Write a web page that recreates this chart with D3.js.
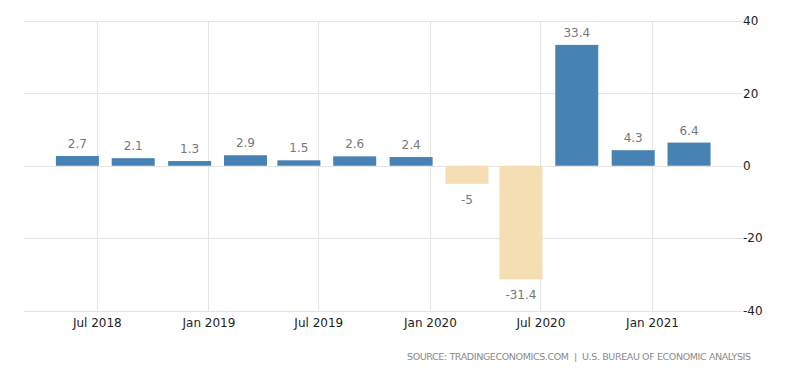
<!DOCTYPE html>
<html>
<head>
<meta charset="utf-8">
<script src="https://cdn.jsdelivr.net/npm/d3@7"></script>
<style>
  html, body { margin: 0; padding: 0; background: #fff; }
  #chart { width: 800px; height: 373px; }
  text { font-family: "DejaVu Sans", sans-serif; }
</style>
</head>
<body>
<div id="chart"></div>
<script>
// US GDP growth rate, annualized q/q (quarter end dates)
const quarters = ["2018-06-30", "2018-09-30", "2018-12-31", "2019-03-31",
                  "2019-06-30", "2019-09-30", "2019-12-31", "2020-03-31",
                  "2020-06-30", "2020-09-30", "2020-12-31", "2021-03-31"];
const values = [2.7, 2.1, 1.3, 2.9, 1.5, 2.6, 2.4, -5, -31.4, 33.4, 4.3, 6.4];

const yTicks = [-40, -20, 0, 20, 40];
const xTickDates = ["2018-07-01", "2019-01-01", "2019-07-01",
                    "2020-01-01", "2020-07-01", "2021-01-01"];
const sourceText = "SOURCE: TRADINGECONOMICS.COM  |  U.S. BUREAU OF ECONOMIC ANALYSIS";

const parse = d3.utcParse("%Y-%m-%d");
const data = quarters.map((q, i) => ({ date: parse(q), value: values[i] }));

const width = 800, height = 373;
const m = { top: 21, right: 60, bottom: 62.5, left: 24 };

const svg = d3.select("#chart").append("svg")
  .attr("width", width)
  .attr("height", height)
  .attr("viewBox", [0, 0, width, height]);

const x = d3.scaleUtc()
  .domain([parse("2018-03-03"), parse("2021-05-26")])
  .range([m.left, width - m.right]);

const y = d3.scaleLinear()
  .domain([-40, 40])
  .range([height - m.bottom, m.top]);

// ----- grid -----
const grid = svg.append("g");

grid.selectAll(null)
  .data(yTicks)
  .enter().append("line")
  .attr("x1", m.left)
  .attr("x2", width - m.right + 2)
  .attr("y1", d => Math.round(y(d)) + 0.5)
  .attr("y2", d => Math.round(y(d)) + 0.5)
  .attr("stroke", "#e4e4e4");

grid.selectAll(null)
  .data(xTickDates.map(parse))
  .enter().append("line")
  .attr("x1", d => Math.round(x(d)) + 0.5)
  .attr("x2", d => Math.round(x(d)) + 0.5)
  .attr("y1", m.top)
  .attr("y2", height - m.bottom + 2)
  .attr("stroke", "#e4e4e4");

// ----- Y axis (right) -----
const yAxis = svg.append("g")
  .attr("transform", `translate(${width - m.right + 3},0)`)
  .call(d3.axisRight(y).tickValues(yTicks).tickFormat(d => String(d)).tickSize(0).tickPadding(0));
yAxis.select(".domain").remove();
yAxis.selectAll("text")
  .attr("font-size", 12)
  .attr("fill", "#222")
  .attr("font-family", "DejaVu Sans, sans-serif");

// ----- X axis -----
const xAxis = svg.append("g")
  .attr("transform", `translate(0,${height - m.bottom})`)
  .call(d3.axisBottom(x)
    .tickValues(xTickDates.map(parse))
    .tickFormat(d3.utcFormat("%b %Y"))
    .tickSize(0)
    .tickPadding(8));
xAxis.select(".domain").remove();
xAxis.selectAll("text")
  .attr("font-size", 12)
  .attr("fill", "#222")
  .attr("font-family", "DejaVu Sans, sans-serif");

// ----- bars -----
const barW = 43;
const center = d => x(d3.utcMonth.offset(d.date, -1));

svg.append("g").selectAll("rect")
  .data(data)
  .enter().append("rect")
  .attr("x", d => center(d) - barW / 2)
  .attr("width", barW)
  .attr("y", d => y(Math.max(0, d.value)))
  .attr("height", d => Math.abs(y(d.value) - y(0)))
  .attr("fill", d => d.value >= 0 ? "#4682b4" : "#f5deb3");

// ----- value labels -----
svg.append("g").selectAll("text")
  .data(data)
  .enter().append("text")
  .attr("x", d => center(d))
  .attr("y", d => d.value >= 0 ? y(d.value) - 8 : y(d.value) + 20)
  .attr("text-anchor", "middle")
  .attr("font-size", 12)
  .attr("fill", "#777")
  .text(d => d.value);

// ----- source -----
svg.append("text")
  .attr("x", 407)
  .attr("y", 359.5)
  .attr("font-size", 9.5)
  .attr("fill", "#8a8a8a")
  .style("white-space", "pre")
  .attr("textLength", 344)
  .attr("lengthAdjust", "spacing")
  .text(sourceText);
</script>
</body>
</html>
